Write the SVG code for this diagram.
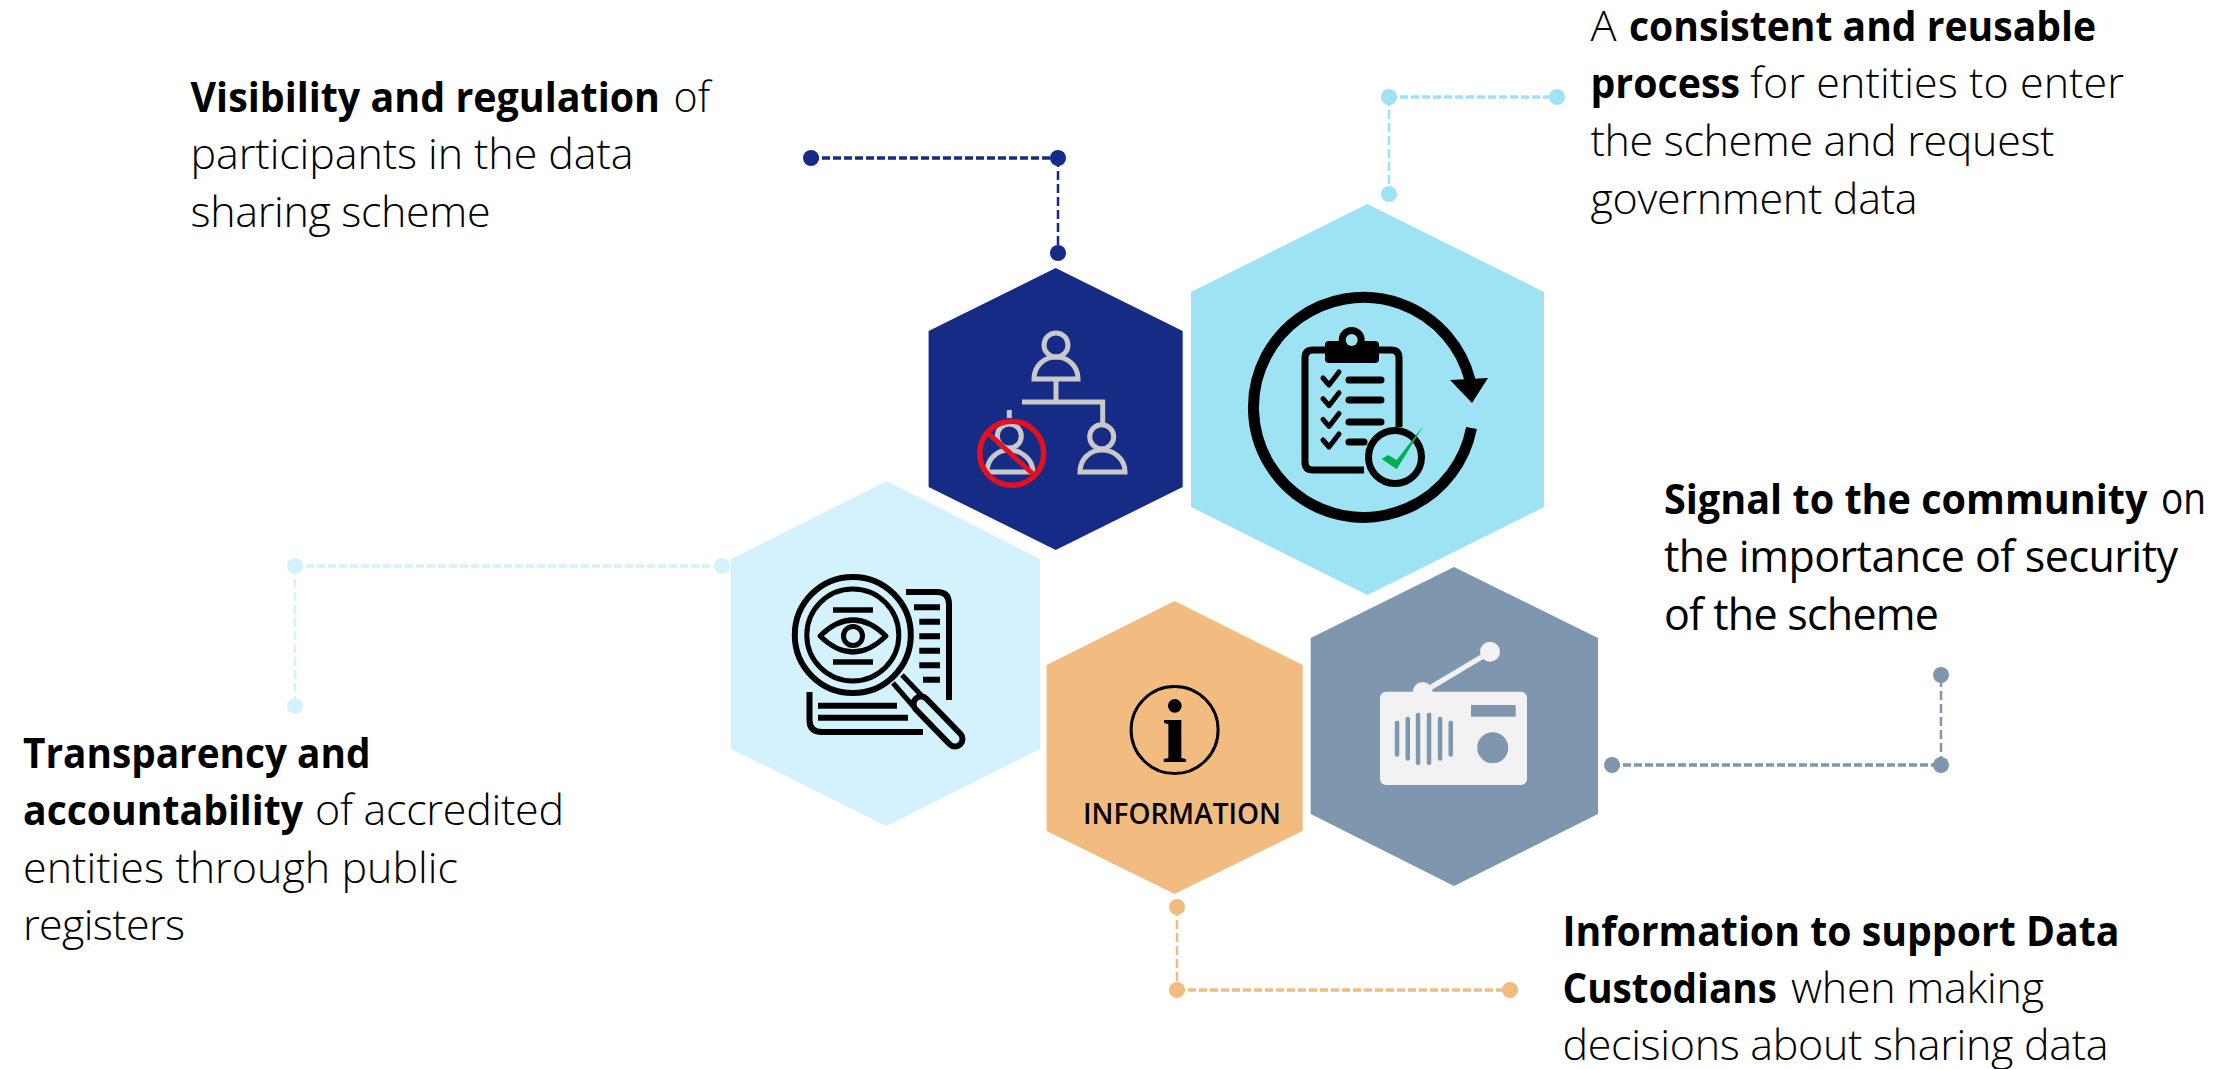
<svg xmlns="http://www.w3.org/2000/svg" width="2239" height="1069" viewBox="0 0 2239 1069">
<style>
text{font-family:"Open Sans","Liberation Sans",sans-serif;fill:#000}
.t{font-size:43px;font-weight:300}
.r{font-weight:400}
.s{font-weight:700;font-size:41.500px}
.k{fill:none;stroke:#000;stroke-linecap:round;stroke-linejoin:round}
.b{fill:none;stroke:#000;stroke-linecap:butt}
.p{fill:none;stroke:#c9c9c9;stroke-width:5}
.c{fill:none;stroke-dasharray:8 3}
.h{stroke-width:3.5}
.v{stroke-width:2.5;stroke-dasharray:9 4}
</style>
<rect width="2239" height="1069" fill="#fff"/>
<g id="connectors">
<g fill="#162b86" stroke="#162b86"><path class="c h" d="M811 158H1058"/><path class="c v" d="M1058 158V253"/><g stroke="none"><circle cx="811" cy="158" r="8"/><circle cx="1058" cy="158" r="8"/><circle cx="1058" cy="253" r="8"/></g></g>
<g fill="#9de3f4" stroke="#9de3f4"><path class="c h" d="M1389 97H1557"/><path class="c v" d="M1389 97V194"/><g stroke="none"><circle cx="1389" cy="97" r="8"/><circle cx="1557" cy="97" r="8"/><circle cx="1389" cy="194" r="8"/></g></g>
<g fill="#d4f1fe" stroke="#d4f1fe"><path class="c h" d="M295 566H722"/><path class="c v" d="M295 566V706"/><g stroke="none"><circle cx="295" cy="566" r="8"/><circle cx="722" cy="566" r="8"/><circle cx="295" cy="706" r="8"/></g></g>
<g fill="#7f96af" stroke="#7f96af"><path class="c h" d="M1612 765H1941"/><path class="c v" d="M1941 765V675"/><g stroke="none"><circle cx="1612" cy="765" r="8"/><circle cx="1941" cy="765" r="8"/><circle cx="1941" cy="675" r="8"/></g></g>
<g fill="#f2bc80" stroke="#f2bc80"><path class="c h" d="M1177 990H1510"/><path class="c v" d="M1177 907V990"/><g stroke="none"><circle cx="1177" cy="907" r="8"/><circle cx="1177" cy="990" r="8"/><circle cx="1510" cy="990" r="8"/></g></g>
</g>
<g id="node-visibility">
<polygon points="1055.7,268 1182.7,331 1182.7,487 1055.7,550 928.6,487 928.6,331" fill="#162b86"/>
<circle class="p" cx="1056" cy="345" r="12"/>
<path class="p" d="M1034 379C1034 366 1044 357 1056 357C1068 357 1078 366 1078 379Z"/>
<path class="p" d="M1056 379V402M1022 402H1102.700V423"/>
<circle class="p" cx="1101.700" cy="436.700" r="12"/>
<path class="p" d="M1080 472C1080 459 1090 450 1102 450C1114 450 1125 459 1125 472Z"/>
<path class="p" d="M1009.300 410V418"/>
<circle class="p" cx="1009.300" cy="436" r="12"/>
<path class="p" d="M987 472C987 459 997 450 1009 450C1021 450 1033 459 1033 472Z"/>
<circle cx="1011.700" cy="453.300" r="32" fill="none" stroke="#e4101f" stroke-width="5.500"/>
<path d="M988 433L1033 474" stroke="#e4101f" stroke-width="5" fill="none"/>
<text class="t" y="112"><tspan class="s" x="190.500" textLength="469.500" lengthAdjust="spacingAndGlyphs">Visibility and regulation</tspan><tspan x="673.500" textLength="36.500" lengthAdjust="spacingAndGlyphs">of</tspan></text>
<text class="t" x="190.500" y="169" textLength="443">participants in the data</text>
<text class="t" x="190.500" y="227" textLength="300">sharing scheme</text>
</g>
<g id="node-process">
<polygon points="1367.500,204 1544,292 1544,507 1367.500,595 1191,507 1191,292" fill="#9de3f4"/>
<path class="b" stroke-width="11" d="M1471.500 428A110 110 0 1 1 1470 380"/>
<polygon points="1450,380 1488,378 1472,403"/>
<path class="b" stroke-width="7" d="M1399 427V358Q1399 350 1391 350H1313Q1305 350 1305 358V462Q1305 470 1313 470H1364"/>
<rect x="1325" y="341" width="54" height="22" rx="4"/>
<circle cx="1351.700" cy="340" r="13"/>
<circle cx="1351.700" cy="340" r="6" fill="#9de3f4"/>
<path class="k" stroke-width="5" d="M1323 378L1329 385L1339 372M1323 398.700L1329 405.700L1339 392.700M1323 419.400L1329 426.400L1339 413.400M1323 440L1329 447L1339 434"/>
<path class="k" stroke-width="7" d="M1349 380H1381M1349 400H1381M1349 422H1381M1349 442H1364"/>
<circle cx="1395" cy="457" r="26.500" fill="#9de3f4" stroke="#000" stroke-width="7"/>
<polygon points="1381.700,459 1388,455 1396.700,460 1424,425 1396.700,469.300" fill="#00b050"/>
<text class="t" y="41"><tspan x="1590.500" textLength="26" lengthAdjust="spacingAndGlyphs">A</tspan><tspan class="s" x="1629" textLength="467" lengthAdjust="spacingAndGlyphs">consistent and reusable</tspan></text>
<text class="t" y="98"><tspan class="s" x="1590.500" textLength="149.500" lengthAdjust="spacingAndGlyphs">process</tspan><tspan x="1750" textLength="374">for entities to enter</tspan></text>
<text class="t" x="1590.500" y="156" textLength="464">the scheme and request</text>
<text class="t" x="1590.500" y="214" textLength="327">government data</text>
</g>
<g id="node-transparency">
<polygon points="886.500,481 1040,559 1040,749 886.500,826 731,749 731,559" fill="#d4f1fe"/>
<circle cx="852.800" cy="635" r="58" fill="none" stroke="#000" stroke-width="6"/>
<circle cx="852.800" cy="635" r="46" fill="none" stroke="#000" stroke-width="5"/>
<path class="b" stroke-width="5.500" d="M833 610H873M833 662H873"/>
<path class="k" stroke-width="5" d="M820 636Q853 604 886 636Q853 668 820 636Z"/>
<circle cx="853" cy="636" r="9.500" fill="none" stroke="#000" stroke-width="5"/>
<path class="b" stroke-width="6" d="M906 592H937Q949 592 949 604V700"/>
<path class="b" stroke-width="6" d="M914 607.300H940M919.300 621.700H940M919.300 636.300H940M919.300 650.700H940M919.300 665.300H940M923 679.700H940"/>
<path class="b" stroke-width="6" d="M809.500 692V720Q809.500 732 822 732H923"/>
<path class="b" stroke-width="6" d="M818 705.700H897M818 717.700H908"/>
<path class="b" stroke-width="5" d="M893 683L913 706M902 675L923 697"/>
<path d="M921 704L955 739" stroke="#000" stroke-width="21" stroke-linecap="round" fill="none"/>
<path d="M921 704L955 739" stroke="#d4f1fe" stroke-width="9" stroke-linecap="round" fill="none"/>
<text class="t s" x="23" y="768" textLength="347.500" lengthAdjust="spacingAndGlyphs">Transparency and</text>
<text class="t" y="825"><tspan class="s" x="23" textLength="280" lengthAdjust="spacingAndGlyphs">accountability</tspan><tspan x="315" textLength="249">of accredited</tspan></text>
<text class="t" x="23" y="883" textLength="435">entities through public</text>
<text class="t" x="23" y="940" textLength="162">registers</text>
</g>
<g id="node-information">
<polygon points="1174.600,601 1302.700,665 1302.700,831 1174.600,894 1046.600,831 1046.600,665" fill="#f2bc80"/>
<circle cx="1174.600" cy="730" r="43.500" fill="none" stroke="#000" stroke-width="3"/>
<text x="1174.600" y="762" text-anchor="middle" style="font-family:'Liberation Serif',serif;font-weight:700;font-size:92px">i</text>
<text x="1083" y="824" textLength="198" lengthAdjust="spacingAndGlyphs" style="font-size:28px;font-weight:600">INFORMATION</text>
<text class="t s" x="1562.500" y="946" textLength="557" lengthAdjust="spacingAndGlyphs">Information to support Data</text>
<text class="t" y="1003"><tspan class="s" x="1562.500" textLength="214.500" lengthAdjust="spacingAndGlyphs">Custodians</tspan><tspan x="1791" textLength="253">when making</tspan></text>
<text class="t" x="1562.500" y="1060" textLength="546">decisions about sharing data</text>
</g>
<g id="node-signal">
<polygon points="1454,567 1598,638 1598,814 1454,886 1310.700,814 1310.700,638" fill="#7f96af"/>
<path d="M1423 692L1490 652" stroke="#f2f2f2" stroke-width="5"/>
<circle cx="1490" cy="651.700" r="10" fill="#f2f2f2"/>
<circle cx="1422.700" cy="692" r="10" fill="#f2f2f2"/>
<rect x="1380" y="691.700" width="147" height="93.300" rx="6" fill="#f2f2f2"/>
<rect x="1471" y="705" width="44.700" height="11.700" fill="#7f96af"/>
<circle cx="1492.700" cy="747.700" r="15.500" fill="#7f96af"/>
<g fill="#7f96af"><rect x="1394.800" y="720.700" width="4.500" height="36" rx="2"/><rect x="1405.500" y="716.700" width="4.500" height="44" rx="2"/><rect x="1415.800" y="712.700" width="4.500" height="52.300" rx="2"/><rect x="1426.800" y="712.700" width="4.500" height="52.300" rx="2"/><rect x="1437.800" y="716.700" width="4.500" height="44" rx="2"/><rect x="1448.500" y="720.700" width="4.500" height="36" rx="2"/></g>
<text class="t r" y="514"><tspan class="s" x="1664" textLength="483.500" lengthAdjust="spacingAndGlyphs">Signal to the community</tspan><tspan x="2161" textLength="45" lengthAdjust="spacingAndGlyphs">on</tspan></text>
<text class="t r" x="1664" y="572" textLength="514">the importance of security</text>
<text class="t r" x="1664" y="630" textLength="275">of the scheme</text>
</g>
</svg>
